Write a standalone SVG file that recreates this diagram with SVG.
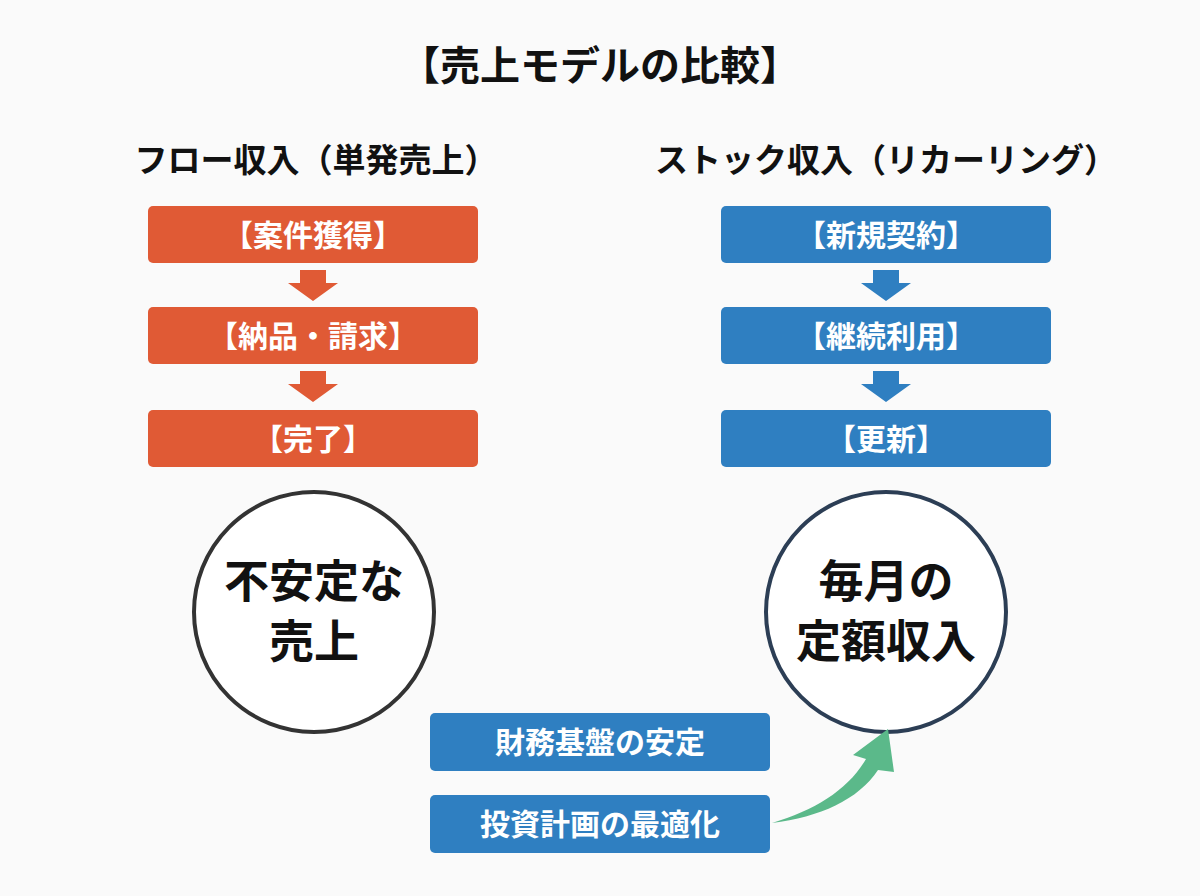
<svg xmlns="http://www.w3.org/2000/svg" width="1200" height="896" viewBox="0 0 1200 896">
<style>
.t{font-family:"Noto Sans CJK JP","Noto Sans",sans-serif;font-weight:bold;text-anchor:middle}
.o{fill:#e05a35}.b{fill:#2f7fc1}
.bt{font-size:30px;fill:#fff}
</style>
<rect width="1200" height="896" fill="#fafafa"/>
<text class="t" x="600" y="80" font-size="40" fill="#111">【売上モデルの比較】</text>
<text class="t" x="316" y="172" font-size="33" fill="#111">フロー収入（単発売上）</text>
<text class="t" x="886" y="172" font-size="33" fill="#111">ストック収入（リカーリング）</text>
<g id="f1"><rect class="o" x="148" y="206" width="330" height="57" rx="5"/><text class="t bt" x="313" y="246">【案件獲得】</text></g>
<g id="f2"><rect class="o" x="148" y="307" width="330" height="57" rx="5"/><text class="t bt" x="313" y="347">【納品・請求】</text></g>
<g id="f3"><rect class="o" x="148" y="410" width="330" height="57" rx="5"/><text class="t bt" x="313" y="450">【完了】</text></g>
<g id="s1"><rect class="b" x="721" y="206" width="330" height="57" rx="5"/><text class="t bt" x="886" y="246">【新規契約】</text></g>
<g id="s2"><rect class="b" x="721" y="307" width="330" height="57" rx="5"/><text class="t bt" x="886" y="347">【継続利用】</text></g>
<g id="s3"><rect class="b" x="721" y="410" width="330" height="57" rx="5"/><text class="t bt" x="886" y="450">【更新】</text></g>
<g id="c1"><circle cx="314" cy="612" r="120" fill="#fff" stroke="#333" stroke-width="4"/><text class="t" x="314" y="598" font-size="45" fill="#111">不安定な</text><text class="t" x="314" y="658" font-size="45" fill="#111">売上</text></g>
<g id="c2"><circle cx="886" cy="612" r="120" fill="#fff" stroke="#2c3e55" stroke-width="4"/><text class="t" x="886" y="598" font-size="45" fill="#111">毎月の</text><text class="t" x="886" y="658" font-size="45" fill="#111">定額収入</text></g>
<g id="b1"><rect class="b" x="430" y="713" width="340" height="58" rx="5"/><text class="t bt" x="600" y="753">財務基盤の安定</text></g>
<g id="b2"><rect class="b" x="430" y="795" width="340" height="58" rx="5"/><text class="t bt" x="600" y="835">投資計画の最適化</text></g>
<g id="connectors">
<path class="o" d="M300,270 H326 V283 H338 L313,301 L288,283 H300 Z"/>
<path class="o" d="M300,371 H326 V384 H338 L313,402 L288,384 H300 Z"/>
<path class="b" d="M873,270 H899 V283 H911 L886,301 L861,283 H873 Z"/>
<path class="b" d="M873,371 H899 V384 H911 L886,402 L861,384 H873 Z"/>
<path fill="#5bb98a" d="M772,823 C820,817 858,800 878,770 L894,772 L888,729 L853,755 L866,759 C848,790 815,810 772,823 Z"/>
</g>
</svg>
